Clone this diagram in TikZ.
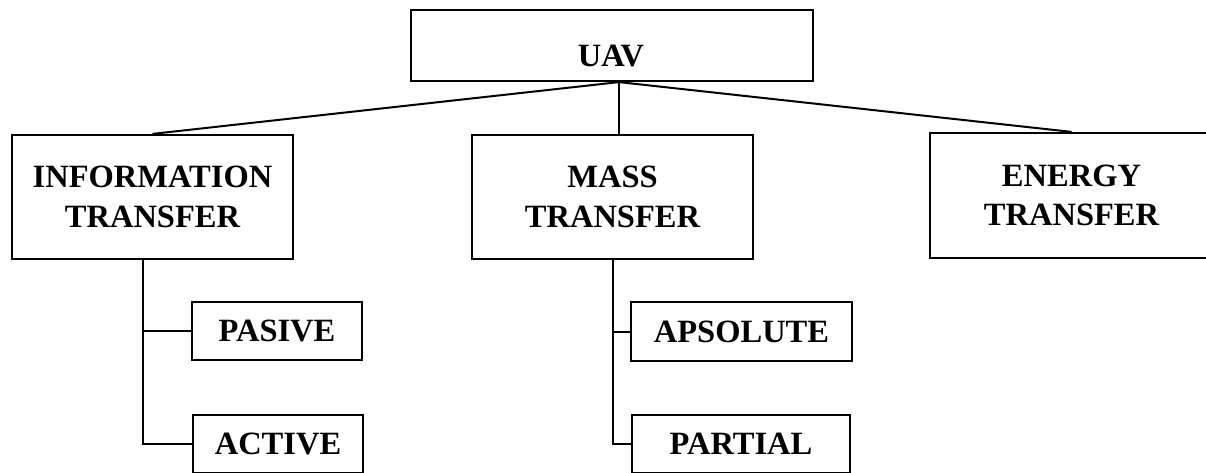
\documentclass[tikz,border=0pt]{standalone}
\usepackage{fontspec}
\setmainfont{Liberation Serif}
\begin{document}
\begin{tikzpicture}[x=1pt,y=-1pt,
  box/.style={draw,line width=2.2pt,inner sep=0pt,align=center,
    font=\fontsize{32.5}{39.5}\selectfont\bfseries},
  lbl/.style={inner sep=0pt,font=\fontsize{32.5}{39.5}\selectfont\bfseries},
  conn/.style={line width=2pt}]
\useasboundingbox (0,0) rectangle (1206,473);
\node[box,minimum width=402pt,minimum height=71pt] (uav) at (612,45.5) {};
\node[lbl] (uavtext) at (611,56) {UAV};
\node[box,minimum width=281pt,minimum height=124pt] (info) at (152.5,197) {INFORMATION\\TRANSFER};
\node[box,minimum width=281pt,minimum height=124pt] (mass) at (612.5,197) {MASS\\TRANSFER};
\node[box,minimum width=283pt,minimum height=125pt] (energy) at (1071.5,195.5) {ENERGY\\TRANSFER};
\node[box,minimum width=170pt,minimum height=58pt] (pasive) at (277,331) {PASIVE};
\node[box,minimum width=170pt,minimum height=58pt] (active) at (278,444) {ACTIVE};
\node[box,minimum width=221pt,minimum height=59pt] (apsolute) at (741.5,331.5) {APSOLUTE};
\node[box,minimum width=218pt,minimum height=58pt] (partial) at (741,444) {PARTIAL};
\coordinate (hub) at ([xshift=7pt]uav.south);
\draw[conn] (hub) -- (info.north);
\draw[conn] (hub) -- (hub |- mass.north);
\draw[conn] (hub) -- (energy.north);
\coordinate (infodown) at ([xshift=-9.5pt]info.south);
\draw[conn] (infodown) |- (pasive.west);
\draw[conn] (infodown) |- (active.west);
\draw[conn] (mass.south) |- (apsolute.west);
\draw[conn] (mass.south) |- (partial.west);
\end{tikzpicture}
\end{document}
